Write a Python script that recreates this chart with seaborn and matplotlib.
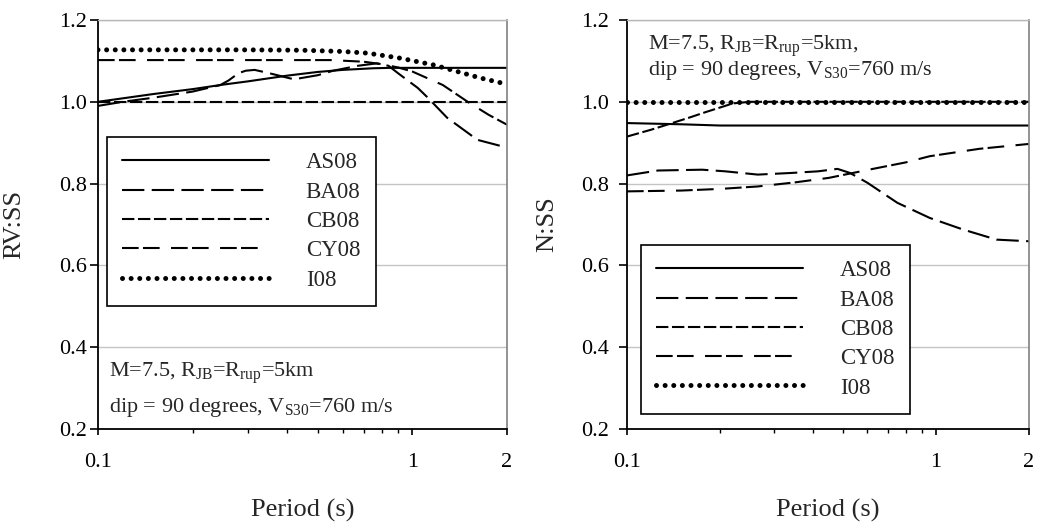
import seaborn as sns
import matplotlib.pyplot as plt
from matplotlib.ticker import FixedLocator, NullFormatter

# ---- values (period in s, ratio) ----
# left panel: RV:SS
as08_rv_t = [0.1, 0.15, 0.2, 0.25, 0.3, 0.4, 0.5, 0.6, 0.75, 0.85, 1.0, 2.0]
as08_rv = [1.0, 1.019, 1.031, 1.042, 1.05, 1.064, 1.073, 1.078, 1.082, 1.083, 1.083, 1.083]
ba08_rv_t = [0.1, 0.12, 0.15, 0.2, 0.245, 0.26, 0.28, 0.295, 0.315, 0.35, 0.42, 0.5,
             0.56, 0.67, 0.77, 0.84, 0.9, 1.04, 1.12, 1.29, 1.61, 2.0]
ba08_rv = [0.99, 1.0, 1.01, 1.025, 1.041, 1.052, 1.07, 1.076, 1.078, 1.07, 1.055, 1.065,
           1.076, 1.088, 1.094, 1.088, 1.07, 1.034, 1.01, 0.961, 0.907, 0.888]
cb08_rv_t = [0.1, 2.0]
cb08_rv = [1.0, 1.0]
cy08_rv_t = [0.1, 0.3, 0.55, 0.7, 0.8, 0.9, 1.0, 1.25, 1.5, 1.75, 2.0]
cy08_rv = [1.102, 1.102, 1.102, 1.098, 1.092, 1.084, 1.074, 1.041, 1.0, 0.968, 0.944]
i08_rv_t = [0.1, 0.3, 0.45, 0.6, 0.72, 0.91, 1.17, 1.39, 1.65, 2.0]
i08_rv = [1.127, 1.127, 1.126, 1.123, 1.119, 1.107, 1.09, 1.074, 1.058, 1.043]

# right panel: N:SS
as08_n_t = [0.1, 0.15, 0.2, 2.0]
as08_n = [0.948, 0.945, 0.942, 0.942]
ba08_n_t = [0.1, 0.126, 0.175, 0.208, 0.265, 0.34, 0.415, 0.48, 0.527, 0.6, 0.75,
            0.955, 1.22, 1.57, 2.0]
ba08_n = [0.82, 0.832, 0.834, 0.83, 0.822, 0.826, 0.83, 0.836, 0.826, 0.802, 0.753,
          0.716, 0.688, 0.663, 0.659]
cb08_n_t = [0.1, 0.12, 0.14, 0.16, 0.18, 0.2, 0.22, 0.25, 2.0]
cb08_n = [0.915, 0.932, 0.948, 0.962, 0.975, 0.986, 0.996, 1.0, 1.0]
cy08_n_t = [0.1, 0.15, 0.2, 0.265, 0.35, 0.45, 0.625, 0.8, 0.955, 1.38, 2.0]
cy08_n = [0.781, 0.783, 0.787, 0.793, 0.803, 0.814, 0.836, 0.852, 0.867, 0.885, 0.897]
i08_n_t = [0.1, 2.0]
i08_n = [1.0, 1.0]

models = ['AS08', 'BA08', 'CB08', 'CY08', 'I08']
dash_styles = {'AS08': None, 'BA08': (16.1, 5.3), 'CB08': (8.9, 2.6),
               'CY08': (12, 3.1, 12, 8.2), 'I08': (0.01, 6.2)}

sns.set_theme(style='ticks')
plt.rcParams['font.family'] = ['Liberation Serif', 'DejaVu Serif']
plt.rcParams['mathtext.fontset'] = 'custom'
plt.rcParams['mathtext.rm'] = 'Liberation Serif'
plt.rcParams['mathtext.it'] = 'Liberation Serif:italic'
plt.rcParams['lines.scale_dashes'] = False

W, H = 1051, 523
fig = plt.figure(figsize=(W / 100, H / 100), dpi=100)
ax1 = fig.add_axes([98 / W, 94 / H, 409 / W, 409 / H])
ax2 = fig.add_axes([627 / W, 94 / H, 402 / W, 409 / H])

panels = [
    (ax1, 'RV:SS', [(as08_rv_t, as08_rv), (ba08_rv_t, ba08_rv), (cb08_rv_t, cb08_rv),
                    (cy08_rv_t, cy08_rv), (i08_rv_t, i08_rv)]),
    (ax2, 'N:SS', [(as08_n_t, as08_n), (ba08_n_t, ba08_n), (cb08_n_t, cb08_n),
                   (cy08_n_t, cy08_n), (i08_n_t, i08_n)]),
]

for ax, ylab, series in panels:
    for name, (t, v) in zip(models, series):
        sns.lineplot(x=t, y=v, ax=ax, color='black', lw=1.5, label=name)
        line = ax.lines[-1]
        if dash_styles[name] is not None:
            line.set_dashes(dash_styles[name])
        if name == 'I08':
            line.set_linewidth(3.6)
            line.set_dash_capstyle('round')

    ax.set_xscale('log')
    ax.set_xlim(0.1, 2)
    ax.set_ylim(0.2, 1.2)
    ax.set_xticks([0.1, 1, 2], ['0.1', '1', '2'])
    ax.xaxis.set_minor_locator(FixedLocator([0.2, 0.3, 0.4, 0.5, 0.6, 0.7, 0.8, 0.9]))
    ax.xaxis.set_minor_formatter(NullFormatter())
    ax.set_yticks([0.2, 0.4, 0.6, 0.8, 1.0, 1.2],
                  ['0.2', '0.4', '0.6', '0.8', '1.0', '1.2'])
    ax.grid(axis='y', color='#c4c4c4', lw=1.0)
    ax.set_axisbelow(True)

    for s in ['left', 'bottom']:
        ax.spines[s].set_color('black')
        ax.spines[s].set_linewidth(1.3)
    ax.spines['top'].set_color('#b8b8b8')
    ax.spines['top'].set_linewidth(1.0)
    ax.spines['right'].set_color('#808080')
    ax.spines['right'].set_linewidth(1.2)

    ax.tick_params(axis='x', which='major', direction='out', length=4.6, width=1.2,
                   pad=12.5, labelsize=16, colors='black')
    ax.tick_params(axis='x', which='minor', direction='out', length=2.6, width=1.0,
                   colors='black')
    ax.tick_params(axis='y', direction='out', length=5.8, width=1.2,
                   labelsize=16, colors='black')

    ax.set_xlabel('Period (s)', fontsize=19)
    ax.set_ylabel(ylab, fontsize=19)
    ax.xaxis.set_label_coords(0.5, -0.17)

ax1.tick_params(axis='y', pad=2)
ax2.tick_params(axis='y', pad=7)
ax1.yaxis.set_label_coords(-0.178, 0.5)
ax2.yaxis.set_label_coords(-0.17, 0.5)

leg_kw = dict(loc='upper left', borderaxespad=0, fontsize=16.5, frameon=True,
              fancybox=False, edgecolor='black', facecolor='white', framealpha=1,
              handlelength=6.4, handletextpad=1.6, labelspacing=0.36, borderpad=0.67)
leg1 = ax1.legend(bbox_to_anchor=(0.022, 0.714), **leg_kw)
leg2 = ax2.legend(bbox_to_anchor=(0.035, 0.45), **leg_kw)
for leg in (leg1, leg2):
    leg.get_frame().set_linewidth(1.2)

line1 = 'M=7.5, R$_{\\mathrm{JB}}$=R$_{\\mathrm{rup}}$=5km'
line2 = 'dip = 90 degrees, V$_{\\mathrm{S30}}$=760 m/s'
fig.text(109 / W, 1 - 377 / H, line1, fontsize=16, va='baseline')
fig.text(109 / W, 1 - 412 / H, line2, fontsize=16, va='baseline')
fig.text(648 / W, 1 - 50 / H, line1 + ',', fontsize=16, va='baseline')
fig.text(648 / W, 1 - 75 / H, line2, fontsize=16, va='baseline')

fig.savefig('out.png', dpi=100)
